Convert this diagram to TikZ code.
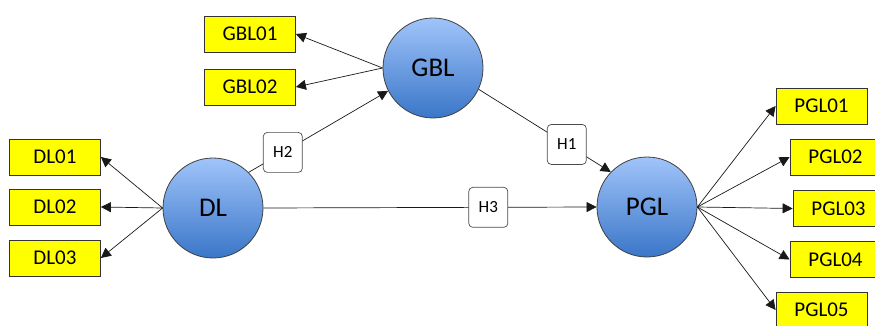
\documentclass[tikz,border=0pt]{standalone}
\usepackage{fontspec}
\setmainfont{Carlito}
\usetikzlibrary{arrows.meta}
\definecolor{ballTop}{RGB}{160,196,250}
\definecolor{ballBot}{RGB}{58,118,200}
\definecolor{indFill}{RGB}{255,255,0}
\tikzset{
  latent/.style={circle, minimum size=100pt, inner sep=0pt, draw=black!75, line width=0.8pt,
    top color=ballTop, bottom color=ballBot, font=\fontsize{27}{27}\selectfont},
  ind/.style={rectangle, draw=black!80, line width=0.8pt, fill=indFill,
    minimum width=91pt, minimum height=36pt, inner sep=0pt, font=\fontsize{21}{21}\selectfont},
  hyp/.style={rectangle, rounded corners=4pt, draw=black!70, line width=0.7pt, fill=white,
    minimum width=39pt, minimum height=40pt, inner sep=0pt, font=\fontsize{17}{17}\selectfont},
  arr/.style={-{Triangle[length=10pt,width=10pt]}, line width=0.7pt, draw=black!90}
}
\begin{document}
\begin{tikzpicture}[x=1pt,y=-1pt]
\useasboundingbox (0,0) rectangle (875,326);

% latent constructs
\node[latent] (DL)  at (213,208) {DL};
\node[latent] (GBL) at (433,68)  {GBL};
\node[latent] (PGL) at (647,207) {PGL};

% indicators
\node[ind] (DL01) at (55,157) {DL01};
\node[ind] (DL02) at (55,207) {DL02};
\node[ind] (DL03) at (55,258) {DL03};
\node[ind] (GBL01) at (250,34) {GBL01};
\node[ind] (GBL02) at (250,87) {GBL02};
\node[ind] (PGL01) at (821.5,106) {PGL01};
\node[ind] (PGL02) at (835.5,157) {PGL02};
\node[ind] (PGL03) at (838.5,208.5) {PGL03};
\node[ind] (PGL04) at (835.5,259.5) {PGL04};
\node[ind] (PGL05) at (821.5,310) {PGL05};

% loadings
\foreach \t in {DL01,DL02,DL03} \draw[arr] (DL.west) -- (\t.east);
\foreach \t in {GBL01,GBL02} \draw[arr] (GBL.west) -- (\t.east);
\foreach \t in {PGL01,PGL02,PGL03,PGL04,PGL05} \draw[arr] (PGL.east) -- (\t.west);

% structural paths with hypotheses
\draw[arr] (DL.45) -- node[hyp, pos=0.245] (H2) {H2} (GBL.207);
\draw[arr] (GBL.-25) -- node[hyp, pos=0.667] (H1) {H1} (PGL.136);
\draw[arr] (DL.east) -- node[hyp, pos=0.675] (H3) {H3} (PGL.west);
\end{tikzpicture}
\end{document}
